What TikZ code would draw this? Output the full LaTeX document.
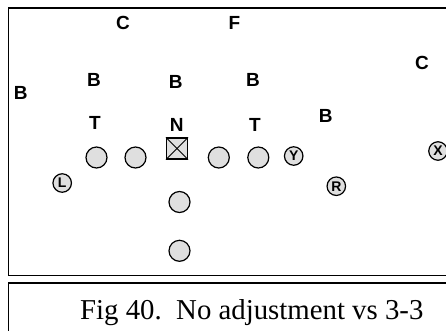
\documentclass[tikz,border=0pt]{standalone}
\usepackage{fontspec}
\setmainfont{Liberation Serif}
\newfontfamily\labfont{Liberation Sans}
\begin{document}
\begin{tikzpicture}[x=1pt,y=-1pt,
  lab/.style={inner sep=0pt,font=\labfont\bfseries\fontsize{19}{19}\selectfont},
  plyr/.style={circle,draw=black,line width=1.2pt,fill=gray!25,minimum size=21pt,inner sep=0pt},
  rcv/.style={circle,draw=black,line width=1.2pt,fill=gray!25,minimum size=18.5pt,inner sep=0pt,font=\labfont\bfseries\fontsize{14}{14}\selectfont},
  ctr/.style={rectangle,draw=black,line width=1.2pt,fill=gray!25,minimum size=21pt,inner sep=0pt},
  frame/.style={draw=black,line width=1.6pt}]
\useasboundingbox (0,0) rectangle (446,330);
\clip (0,0) rectangle (446,330);
% frames
\draw[frame] (8.5,8) rectangle (470,275.5);
\draw[frame] (8.5,283) rectangle (470,350);
% defense labels
\node[lab] (c1) at (123,23.3) {C};
\node[lab] (f) at (234.3,23) {F};
\node[lab] (c2) at (422,63) {C};
\node[lab] (b1) at (20.8,93.3) {B};
\node[lab] (b2) at (94,80) {B};
\node[lab] (b3) at (175.8,82) {B};
\node[lab] (b4) at (253,79.5) {B};
\node[lab] (b5) at (325.8,116.2) {B};
\node[lab] (t1) at (95,123.3) {T};
\node[lab] (n) at (176.7,124.5) {N};
\node[lab] (t2) at (255,125) {T};
% offense
\node[plyr] (lt) at (96.5,157.5) {};
\node[plyr] (lg) at (135.5,157.5) {};
\node[ctr] (sq) at (177,148.5) {};
\draw[line width=0.8pt] (sq.north west) -- (sq.south east);
\draw[line width=0.8pt] (sq.north east) -- (sq.south west);
\node[plyr] (rg) at (218.8,157.5) {};
\node[plyr] (rt) at (258.3,157.5) {};
\node[rcv] (y) at (293.7,156) {Y};
\node[rcv] (x) at (438,151) {X};
\node[rcv] (l) at (62.2,183) {L};
\node[rcv] (r) at (336.3,186.2) {R};
\node[plyr] (qb) at (179.5,202) {};
\node[plyr] (rb) at (179.5,250.8) {};
% caption
\node[inner sep=0pt,anchor=base west,font=\fontsize{28.8}{30}\selectfont] (cap) at (80,319) {Fig 40.\ \ No adjustment vs 3-3};
\end{tikzpicture}
\end{document}
